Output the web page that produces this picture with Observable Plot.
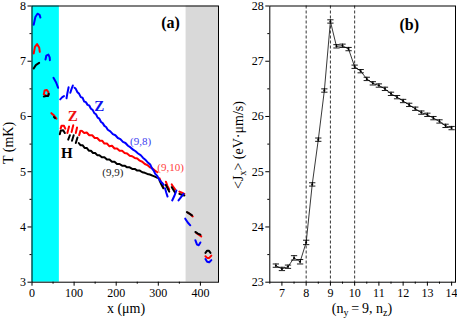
<!DOCTYPE html>
<html><head><meta charset="utf-8">
<script src="https://cdn.jsdelivr.net/npm/d3@7"></script>
<script src="https://cdn.jsdelivr.net/npm/@observablehq/plot@0.6"></script>
<style>
body{margin:0;background:#fff;}
#wrap{position:relative;width:457px;height:318px;font-family:"Liberation Serif",serif;overflow:hidden;}
#wrap svg{position:absolute;top:0;font-family:"Liberation Serif",serif;}
.lab{position:absolute;font-family:"Liberation Serif",serif;font-size:14px;white-space:nowrap;color:#000;line-height:1;}
.lab sub{font-size:10px;vertical-align:-3px;line-height:0;}
</style></head><body><div id="wrap"></div>
<script>
// ---------- Panel (a) data: dashed trajectory pieces [x(um), T(mK)] ----------
const blueSegs = [
  [[4,7.66],[8,7.80],[13,7.86],[18,7.84],[20,7.79]],
  [[32,7.03],[34,7.10],[39,7.12],[42,7.07],[42.5,7.02]],
  [[51,6.70],[57,6.62],[62,6.52]],
  [[67,6.31],[72,6.35],[76,6.37]],
  [[82,6.33],[84,6.42],[87,6.53]],
  [[91,6.43],[94,6.50],[97,6.56]],
  [[101,6.52],[104,6.50],[108,6.44],[112,6.41],[116,6.35],[120,6.34],[124,6.27],[128,6.26],[132,6.21],[136,6.20],[140,6.14],[144,6.12],[148,6.06],[152,6.04],[156,5.98],[160,5.96],[164,5.90],[168,5.88],[172,5.83],[176,5.81],[180,5.76],[186,5.73],[192,5.68],[198,5.66],[204,5.61],[210,5.59],[216,5.54],[222,5.52],[228,5.47],[234,5.44],[240,5.40],[246,5.37],[252,5.33],[258,5.30],[264,5.25],[270,5.21],[276,5.16],[281,5.13],[285,5.06],[289,5.02],[293,4.96],[298,4.92],[302,4.86],[306,4.82],[310,4.79],[313,4.76]],
  [[316,4.70],[319,4.62],[322,4.55]],
  [[333,4.48],[338,4.56],[343,4.66]],
  [[348,4.48],[354,4.54],[360,4.60]],
  [[364,4.15],[370,4.08],[376,4.03]],
  [[388,3.76],[392,3.68],[396,3.67],[400,3.72]],
  [[412,3.42],[416,3.37],[421,3.36],[426,3.40]]
];
const redSegs = [
  [[4,7.14],[7,7.26],[12,7.31],[17,7.25],[18.5,7.17]],
  [[33,6.38],[28,6.40],[30,6.47],[35,6.48],[39,6.44],[39,6.39]],
  [[46,6.06],[52,6.02],[58,5.96]],
  [[68,5.78],[70,5.83],[76,5.83],[79,5.78]],
  [[84,5.70],[88,5.82]],
  [[94,5.72],[98,5.84]],
  [[104,5.70],[107,5.80]],
  [[112,5.66],[115,5.74]],
  [[118,5.74],[124,5.70],[130,5.71],[136,5.66],[143,5.66],[149,5.61],[155,5.61],[161,5.56],[167,5.56],[172,5.51],[178,5.51],[184,5.46],[190,5.47],[196,5.42],[202,5.42],[208,5.38],[214,5.38],[220,5.34],[226,5.33],[232,5.29],[238,5.28],[244,5.25],[250,5.24],[256,5.20],[262,5.18],[268,5.14],[274,5.12],[280,5.08],[286,5.06],[292,5.02],[298,4.99]],
  [[303,4.88],[308,4.78],[312,4.72]],
  [[318,4.82],[322,4.74],[326,4.68]],
  [[332,4.77],[336,4.72],[340,4.68]],
  [[350,4.64],[356,4.62],[362,4.60]],
  [[370,4.26],[376,4.23],[382,4.19]],
  [[390,3.89],[396,3.86],[402,3.83]],
  [[412,3.47],[416,3.44],[421,3.44],[426,3.48]]
];
const blackSegs = [
  [[4,6.87],[9,6.93],[17,6.97]],
  [[28,6.36],[33,6.37],[38,6.37],[40,6.41]],
  [[52,5.99],[55,5.97]],
  [[66,5.68],[68,5.74],[74,5.75],[78,5.70]],
  [[86,5.58],[90,5.66]],
  [[95,5.56],[99,5.66]],
  [[104,5.52],[108,5.62]],
  [[111,5.52],[115,5.48],[120,5.48],[125,5.43],[130,5.43],[135,5.38],[140,5.38],[145,5.34],[150,5.34],[155,5.30],[160,5.30],[166,5.26],[172,5.26],[178,5.22],[184,5.22],[190,5.18],[196,5.18],[202,5.14],[208,5.14],[214,5.11],[220,5.11],[226,5.08],[232,5.08],[238,5.05],[244,5.05],[250,5.02],[256,5.02],[262,4.99],[268,4.98],[274,4.96],[280,4.95],[286,4.93],[292,4.91],[298,4.89]],
  [[303,4.84],[308,4.76],[312,4.70]],
  [[318,4.76],[322,4.70],[326,4.64]],
  [[332,4.72],[336,4.67],[340,4.62]],
  [[350,4.60],[356,4.58],[362,4.57]],
  [[368,4.27],[374,4.24],[380,4.21]],
  [[388,3.91],[394,3.88],[400,3.86]],
  [[412,3.53],[416,3.57],[420,3.57],[424,3.53]]
];
const cyanBand = [0, 65];
const grayBand = [366, 443];
const xTicksA = [0, 100, 200, 300, 400];
const xMinorA = [50, 150, 250, 350];
const yTicksA = [3, 4, 5, 6, 7, 8];
const yMinorA = [3.5, 4.5, 5.5, 6.5, 7.5];
const boldLabelsA = [
  {x: 329, y: 7.70, text: "(a)", color: "#000", size: 16},
  {x: 160, y: 6.18, text: "Z", color: "#1010ee", size: 15},
  {x: 97, y: 6.01, text: "Z", color: "#ee1010", size: 15},
  {x: 83, y: 5.33, text: "H", color: "#000", size: 15}
];
const pairLabelsA = [
  {x: 258, y: 5.55, text: "(9,8)", color: "#3c3cf0"},
  {x: 329, y: 5.08, text: "(9,10)", color: "#ff4040"},
  {x: 192, y: 4.98, text: "(9,9)", color: "#222"}
];

// ---------- Panel (b) data ----------
const nz = [6.75,7,7.25,7.5,7.75,8,8.25,8.5,8.75,9,9.25,9.5,9.75,10,10.25,10.5,10.75,11,11.25,11.5,11.75,12,12.25,12.5,12.75,13,13.25,13.5,13.75,14];
const jx = [23.30,23.24,23.28,23.44,23.37,23.72,24.77,25.58,26.47,27.72,27.27,27.28,27.22,26.90,26.82,26.68,26.60,26.56,26.50,26.41,26.35,26.28,26.21,26.14,26.07,26.03,25.97,25.91,25.83,25.79];
const jxErr = [0.03,0.03,0.03,0.04,0.04,0.04,0.03,0.03,0.03,0.03,0.03,0.03,0.03,0.03,0.03,0.03,0.03,0.03,0.03,0.03,0.03,0.03,0.03,0.03,0.03,0.03,0.03,0.03,0.03,0.03];
const dashedNz = [8, 9, 10];
const xTicksB = [7, 8, 9, 10, 11, 12, 13, 14];
const xMinorB = [6.5, 7.5, 8.5, 9.5, 10.5, 11.5, 12.5, 13.5];
const yTicksB = [23, 24, 25, 26, 27, 28];
const yMinorB = [23.5, 24.5, 25.5, 26.5, 27.5];

// ---------- build ----------
const SERIF = '"Liberation Serif", "Times New Roman", serif';
const flat = (segs) => segs.flatMap((s, i) => s.map(([x, y]) => ({x, y, seg: i})));
const font = {fontFamily: SERIF, fontSize: "12px", background: "white", color: "black"};
const intFmt = d => String(d);
const noFmt = () => "";

const pa = Plot.plot({
  width: 228, height: 318,
  marginLeft: 31.5, marginRight: 10, marginTop: 5.5, marginBottom: 36.3,
  style: font,
  x: {domain: [0, 443], label: null},
  y: {domain: [3, 8], label: null},
  marks: [
    Plot.rect([cyanBand], {x1: d => d[0], x2: d => d[1], y1: 3, y2: 8, fill: "#00ffff"}),
    Plot.rect([grayBand], {x1: d => d[0], x2: d => d[1], y1: 3, y2: 8, fill: "#d9d9d9"}),
    Plot.line(flat(redSegs), {x: "x", y: "y", z: "seg", stroke: "#ff0000", strokeWidth: 2}),
    Plot.line(flat(blackSegs), {x: "x", y: "y", z: "seg", stroke: "#000", strokeWidth: 2}),
    Plot.line(flat(blueSegs), {x: "x", y: "y", z: "seg", stroke: "#0000ff", strokeWidth: 2}),
    Plot.text(boldLabelsA, {x: "x", y: "y", text: "text", fill: "color", fontSize: "size", fontWeight: "bold", fontFamily: SERIF}),
    Plot.text(pairLabelsA, {x: "x", y: "y", text: "text", fill: "color", fontSize: 11, fontFamily: SERIF}),
    Plot.frame({stroke: "#000", strokeWidth: 1}),
    Plot.axisX({ticks: xTicksA, tickSize: 4, tickPadding: 2, tickFormat: intFmt, fontSize: 12, fontFamily: SERIF}),
    Plot.axisX({ticks: xMinorA, tickSize: 2, tickFormat: noFmt}),
    Plot.axisY({ticks: yTicksA, tickSize: 4, tickPadding: 2, tickFormat: intFmt, fontSize: 12, fontFamily: SERIF}),
    Plot.axisY({ticks: yMinorA, tickSize: 2, tickFormat: noFmt})
  ]
});

const rowsB = nz.map((x, i) => ({x, y: jx[i], e: jxErr[i]}));
const caps = rowsB.flatMap(d => [{x: d.x, y: d.y - d.e}, {x: d.x, y: d.y + d.e}]);
const pb = Plot.plot({
  width: 229, height: 318,
  marginLeft: 41.3, marginRight: 2, marginTop: 5.5, marginBottom: 36.3,
  style: font,
  x: {domain: [6.5, 14.16], label: null},
  y: {domain: [23, 28], label: null},
  marks: [
    Plot.ruleX(dashedNz, {stroke: "#000", strokeWidth: 0.8, strokeDasharray: "3,2"}),
    Plot.line(rowsB, {x: "x", y: "y", stroke: "#222", strokeWidth: 0.9}),
    Plot.ruleX(rowsB, {x: "x", y1: d => d.y - d.e, y2: d => d.y + d.e, stroke: "#000", strokeWidth: 0.9}),
    Plot.link(caps, {x1: d => d.x - 0.13, x2: d => d.x + 0.13, y1: "y", y2: "y", stroke: "#000", strokeWidth: 0.9}),
    Plot.dot(rowsB, {x: "x", y: "y", r: 1, fill: "#000"}),
    Plot.text([{x: 12.25, y: 27.65, t: "(b)"}], {x: "x", y: "y", text: "t", fontSize: 16, fontWeight: "bold", fontFamily: SERIF}),
    Plot.frame({stroke: "#000", strokeWidth: 1}),
    Plot.axisX({ticks: xTicksB, tickSize: 4, tickPadding: 2, tickFormat: intFmt, fontSize: 12, fontFamily: SERIF}),
    Plot.axisX({ticks: xMinorB, tickSize: 2, tickFormat: noFmt}),
    Plot.axisY({ticks: yTicksB, tickSize: 4, tickPadding: 2, tickFormat: intFmt, fontSize: 12, fontFamily: SERIF}),
    Plot.axisY({ticks: yMinorB, tickSize: 2, tickFormat: noFmt})
  ]
});

const wrap = document.getElementById("wrap");
pa.style.left = "0px";
pb.style.left = "228px";
wrap.appendChild(pa);
wrap.appendChild(pb);

function addLabel(html, cx, cy, rotate) {
  const d = document.createElement("div");
  d.className = "lab";
  d.innerHTML = html;
  d.style.left = cx + "px";
  d.style.top = cy + "px";
  d.style.transform = "translate(-50%,-50%)" + (rotate ? " rotate(-90deg)" : "");
  wrap.appendChild(d);
}
addLabel("T (mK)", 9, 143, true);
addLabel("x (\u03bcm)", 126, 309, false);
addLabel("&lt;J<sub>x</sub>&gt; (eV\u00b7\u03bcm/s)", 239, 145, true);
addLabel("(n<sub>y</sub>\u2009=\u20099, n<sub>z</sub>)", 362, 309, false);
</script></body></html>
